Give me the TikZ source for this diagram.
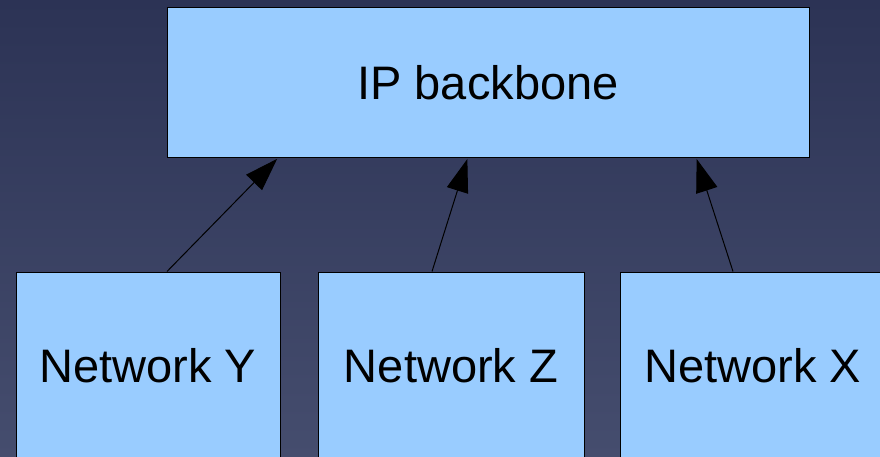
\documentclass[tikz,border=0pt]{standalone}
\usepackage{fontspec}
\setmainfont{Liberation Sans}
\usetikzlibrary{arrows.meta,calc}
\definecolor{bgtop}{HTML}{2C3355}
\definecolor{bgmid}{HTML}{363E61}
\definecolor{bgbottom}{HTML}{454D6E}
\definecolor{boxfill}{HTML}{99CCFF}
\tikzset{
  netbox/.style={draw=black, line width=1pt, fill=boxfill, inner sep=0pt,
    font=\fontsize{47}{56}\selectfont, text=black},
  uplink/.style={draw=black, line width=1pt,
    -{Triangle[length=33pt,width=22pt]}, shorten >=0.5pt},
}
\begin{document}
\begin{tikzpicture}[x=1pt,y=-1pt]
  % canvas and background
  \useasboundingbox (0,0) rectangle (880,457);
  \clip (0,0) rectangle (880,457);
  \shade[top color=bgtop, middle color=bgmid, bottom color=bgbottom]
    (0,0) rectangle (880,457);

  % backbone
  \node[netbox, minimum width=642pt, minimum height=150pt] (ip) at (488,83) {IP backbone};

  % access networks (run past the lower edge)
  \node[netbox, minimum width=264pt, minimum height=187pt] (ny) at (148,365.5) {Network Y};
  \node[netbox, minimum width=266pt, minimum height=187pt] (nz) at (451,365.5) {Network Z};
  \node[netbox, minimum width=266pt, minimum height=187pt] (nx) at (753,365.5) {Network X};

  % links up to the backbone
  \draw[uplink] ($(ny.north)+(19,0)$) -- ($(ip.south west)+(111,0)$);
  \draw[uplink] ($(nz.north)+(-19,0)$) -- ($(ip.south west)+(301,0)$);
  \draw[uplink] ($(nx.north)+(-20,0)$) -- ($(ip.south west)+(530,0)$);
\end{tikzpicture}
\end{document}
